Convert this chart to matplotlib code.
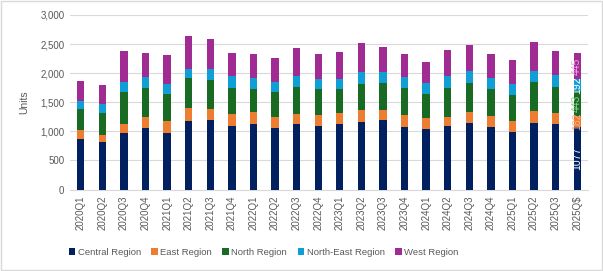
import matplotlib
matplotlib.use("Agg")
import matplotlib.pyplot as plt
from matplotlib.patches import Rectangle
import numpy as np

plt.rcParams["font.family"] = ["Liberation Sans", "DejaVu Sans"]

quarters = ["2020Q1","2020Q2","2020Q3","2020Q4","2021Q1","2021Q2","2021Q3","2021Q4",
            "2022Q1","2022Q2","2022Q3","2022Q4","2023Q1","2023Q2","2023Q3","2023Q4",
            "2024Q1","2024Q2","2024Q3","2024Q4","2025Q1","2025Q2","2025Q3","2025Q$"]
central = [870, 825, 967, 1064, 967, 1173, 1190, 1087, 1121, 1059, 1121, 1093,
           1133, 1156, 1190, 1076, 1036, 1087, 1144, 1076, 984, 1144, 1121, 1077]
east = [150, 114, 160, 183, 206, 222, 194, 217, 212, 182, 183, 188,
        182, 205, 183, 205, 188, 154, 183, 194, 189, 200, 189, 182]
north = [365, 376, 548, 502, 462, 514, 491, 434, 399, 440, 451, 445,
         411, 451, 456, 457, 411, 497, 502, 451, 445, 496, 456, 443]
northeast = [143, 155, 177, 177, 171, 171, 199, 205, 183, 159, 188, 166,
             166, 200, 183, 188, 200, 211, 200, 188, 188, 200, 200, 192]
west = [336, 330, 536, 422, 502, 554, 514, 411, 411, 429, 491, 434,
        474, 502, 433, 400, 359, 451, 451, 417, 423, 491, 411, 445]

series_names = ["Central Region", "East Region", "North Region", "North-East Region", "West Region"]
colors = ["#002060", "#ED7D31", "#196B24", "#0F9ED5", "#A02B93"]
label_colors = ["#FFFFFF", "#F4B183", "#8FD18F", "#FFFFFF", "#F2A5E8"]

fig = plt.figure(figsize=(6.03, 2.71), dpi=100)
ax = fig.add_axes([70/603, 1-189.5/271, 518/603, 174.5/271])

x = np.arange(len(quarters))
bottom = np.zeros(len(quarters))
data = [central, east, north, northeast, west]
for vals, name, c, lc in zip(data, series_names, colors, label_colors):
    v = np.array(vals, dtype=float)
    ax.bar(x, v, width=0.34, bottom=bottom, color=c, label=name, zorder=3)
    i = len(quarters) - 1
    ax.text(x[i], bottom[i] + v[i] / 2, str(vals[i]), rotation=90, ha="center", va="center",
            fontsize=7.5, color=lc, zorder=4)
    bottom += v

ax.set_xlim(-0.5, len(quarters) - 0.5)
ax.set_ylim(0, 3000)
ax.set_yticks(np.arange(0, 3001, 500))
ax.set_yticklabels([f"{t:,}" for t in range(0, 3001, 500)])
ax.set_xticks(x)
ax.set_xticklabels(quarters, rotation=90)
ax.tick_params(axis="both", length=0, labelsize=7, colors="#595959", pad=4)
ax.grid(axis="y", color="#D9D9D9", linewidth=0.8, zorder=0)
for s in ["top", "right", "left"]:
    ax.spines[s].set_visible(False)
ax.spines["bottom"].set_color("#D9D9D9")
ax.set_ylabel("Units", fontsize=7.5, color="#595959", labelpad=8)

fig.legend(loc="center", bbox_to_anchor=(0.437, 0.07), ncol=5, frameon=False,
           fontsize=6.8, handlelength=0.7, handleheight=0.7, handletextpad=0.25,
           columnspacing=1.1, labelcolor="#595959")

fig.patches.append(Rectangle((0.002, 0.004), 0.996, 0.992, transform=fig.transFigure,
                             fill=False, edgecolor="#D9D9D9", linewidth=1))
fig.savefig("out.png", dpi=100)
